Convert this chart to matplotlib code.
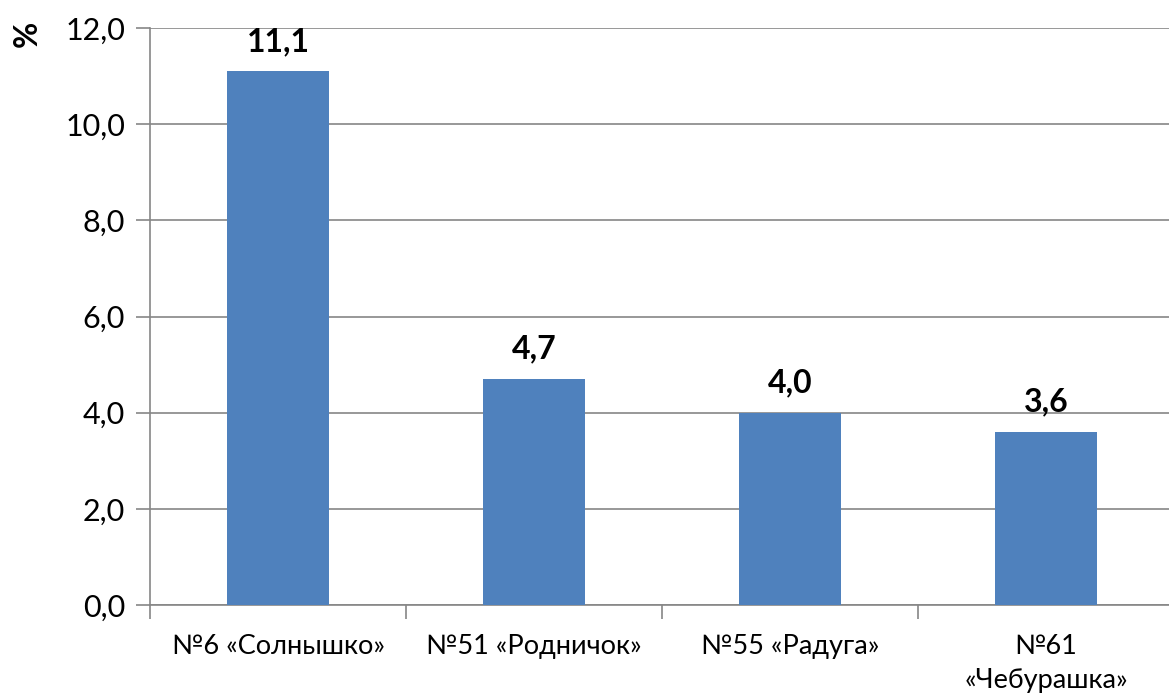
import numpy as np
import matplotlib.pyplot as plt

plt.rcParams['font.family'] = ['Lato', 'DejaVu Sans']

# Data
categories = ['№6 «Солнышко»', '№51 «Родничок»', '№55 «Радуга»', '№61\n«Чебурашка»']
values = [11.1, 4.7, 4.0, 3.6]
value_labels = ['11,1', '4,7', '4,0', '3,6']
y_ticks = [0, 2, 4, 6, 8, 10, 12]
y_tick_labels = ['0,0', '2,0', '4,0', '6,0', '8,0', '10,0', '12,0']

fig = plt.figure(figsize=(11.69, 6.99), dpi=100)
ax = fig.add_axes([150 / 1169, 1 - 605 / 699, 1024 / 1169, 577 / 699])

x = np.arange(len(categories))
ax.bar(x, values, width=0.4, color='#4F81BD', zorder=3)

for xi, v, lab in zip(x, values, value_labels):
    ax.annotate(lab, (xi, v), xytext=(0, 11), textcoords='offset points',
                ha='center', va='bottom', fontsize=23, fontweight='bold')

ax.set_xlim(-0.5, len(categories) - 0.5)
ax.set_ylim(0, 12)
ax.set_yticks(y_ticks)
ax.set_yticklabels(y_tick_labels, fontsize=22)
ax.yaxis.grid(True, color='#868686', linewidth=1.2, zorder=0)

# category boundary ticks and centered labels
ax.set_xticks(np.arange(-0.5, len(categories), 1.0))
ax.set_xticklabels([])
ax.set_xticks(x, minor=True)
ax.set_xticklabels(categories, minor=True, fontsize=19.5, linespacing=1.45, va='top')
ax.tick_params(axis='x', which='major', length=10, color='#868686', width=1.2)
ax.tick_params(axis='x', which='minor', length=0, pad=21)
ax.tick_params(axis='y', length=10, color='#868686', width=1.2, pad=8)

for s in ['top', 'right']:
    ax.spines[s].set_visible(False)
for s in ['left', 'bottom']:
    ax.spines[s].set_color('#868686')
    ax.spines[s].set_linewidth(1.2)

fig.text(27 / 1169, 1 - 34 / 699, '%', rotation=90, ha='center', va='center',
         fontsize=23, fontweight='bold')

fig.savefig('out.png', dpi=100)
